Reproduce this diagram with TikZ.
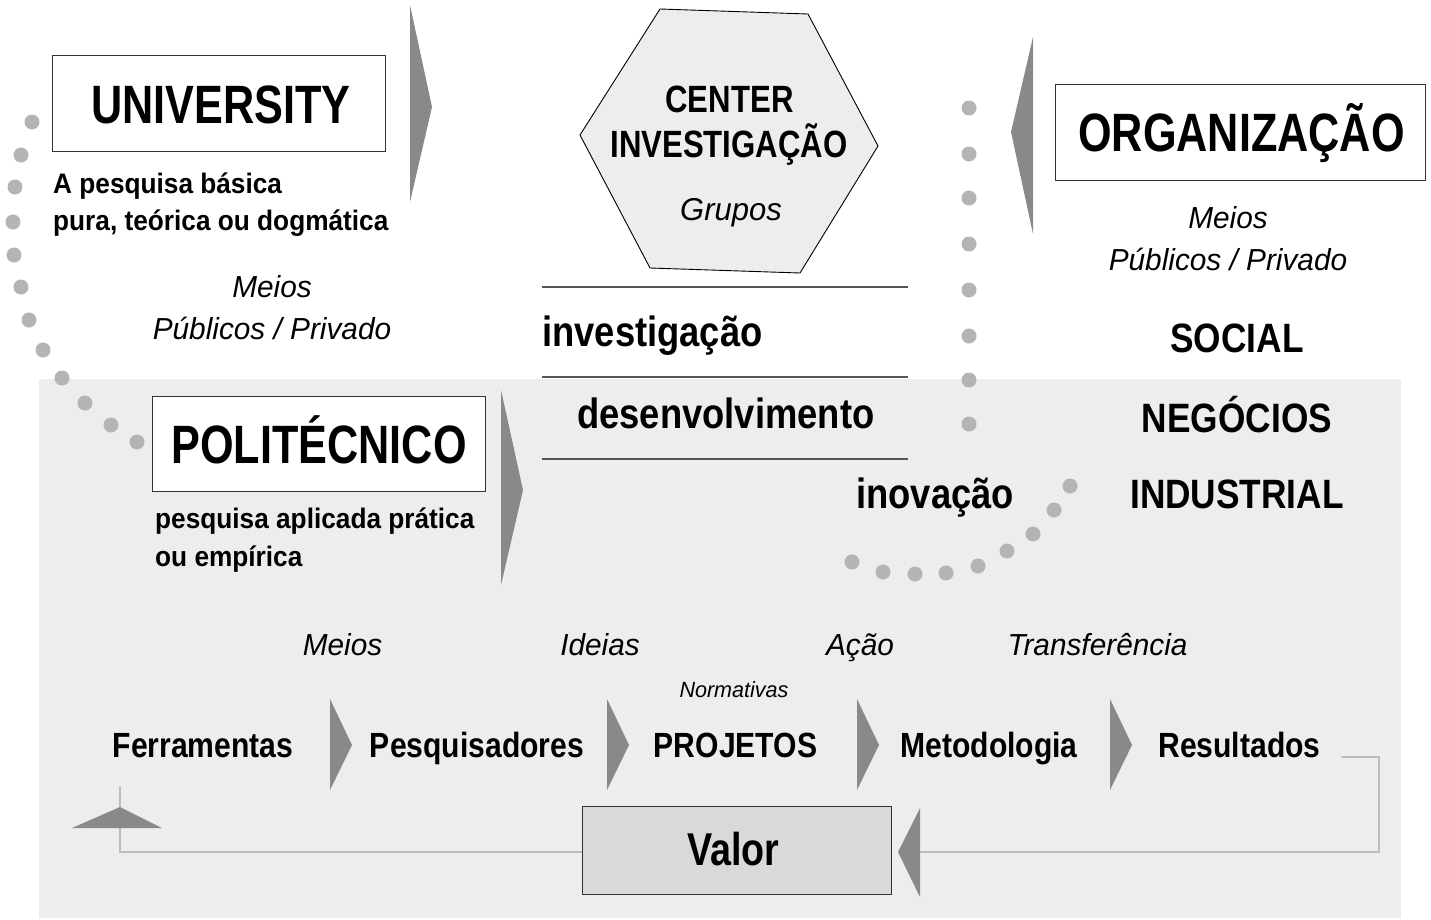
\documentclass[tikz,border=0pt]{standalone}
\usepackage{fontspec}
\setmainfont{Liberation Sans}
\newfontfamily\fhd[FakeStretch=0.80]{Liberation Sans}
\newfontfamily\fbd[FakeStretch=0.93]{Liberation Sans}
\newfontfamily\flb[FakeStretch=0.86]{Liberation Sans}
\newfontfamily\fce[FakeStretch=0.82]{Liberation Sans}
\newfontfamily\fit[FakeStretch=0.98]{Liberation Sans}
\definecolor{bggray}{HTML}{EDEDED}
\definecolor{dotgray}{HTML}{B4B4B4}
\definecolor{arrgray}{HTML}{898989}
\definecolor{linegray}{HTML}{BDBDBD}
\definecolor{valgray}{HTML}{D9D9D9}
\definecolor{boxline}{HTML}{333333}
\definecolor{midline}{HTML}{555555}
\tikzset{
  hd/.style={font={\fhd\bfseries\fontsize{54}{60}\selectfont}, inner sep=0, anchor=base},
  bd/.style={font={\fbd\bfseries\fontsize{28.2}{32}\selectfont}, inner sep=0, anchor=base west},
  lb/.style={font={\flb\bfseries\fontsize{35}{40}\selectfont}, inner sep=0, anchor=base},
  md/.style={font={\flb\bfseries\fontsize{42.3}{48}\selectfont}, inner sep=0, anchor=base west},
  sec/.style={font={\flb\bfseries\fontsize{41}{46}\selectfont}, inner sep=0, anchor=base},
  ce/.style={font={\fce\bfseries\fontsize{38}{42}\selectfont}, inner sep=0, anchor=base},
  it/.style={font={\fit\itshape\fontsize{30.4}{34}\selectfont}, inner sep=0, anchor=base},
  box/.style={draw=boxline, line width=1pt, fill=white, rectangle, inner sep=0},
  dot/.style={circle, fill=dotgray, inner sep=0, minimum size=15pt},
  chev/.style={fill=arrgray},
  fb/.style={draw=linegray, line width=2.5pt},
  sepline/.style={draw=midline, line width=1.2pt}
}
\begin{document}
\begin{tikzpicture}[x=1pt,y=-1pt]
\useasboundingbox (0,0) rectangle (1431,919);
\fill[white] (0,0) rectangle (1431,919);
\fill[bggray] (39,379) rectangle (1401,918);

% left dots
\foreach \p [count=\i] in {(32,122),(21,155),(15,187),(13,222),(14,255),(21,287),(29,320),(43,350),(62,378),(85,403),(111,425),(137,442)}
  \node[dot] (ld\i) at \p {};
% right dots
\foreach \yy [count=\i] in {108,154,198,244,290,336,380,424}
  \node[dot] (rd\i) at (969,\yy) {};
% arc dots
\foreach \p [count=\i] in {(852,562),(883,572),(915,574),(946,573),(978,566),(1007,551),(1033,534),(1054,510),(1070,486)}
  \node[dot] (ad\i) at \p {};

% big triangles
\fill[chev] (410,5) -- (432,107) -- (410,202) -- cycle;
\fill[chev] (1033,37) -- (1011,132) -- (1033,234) -- cycle;
\fill[chev] (501,390) -- (523,490) -- (501,585) -- cycle;

% UNIVERSITY
\node[box, minimum width=333pt, minimum height=96pt] (univ) at (218.5,103) {};
\node[hd] (univT) at (221,123) {UNIVERSITY};
\node[bd] (ub1) at (53,193) {A pesquisa básica};
\node[bd] (ub2) at (53,230) {pura, teórica ou dogmática};
\node[it] (um1) at (272,297) {Meios};
\node[it] (um2) at (272,339) {Públicos / Privado};

% ORGANIZACAO
\node[box, minimum width=370pt, minimum height=96pt] (org) at (1240,132) {};
\node[hd] (orgT) at (1241.5,151) {ORGANIZAÇÃO};
\node[it] (om1) at (1228,228) {Meios};
\node[it] (om2) at (1228,270) {Públicos / Privado};
\node[sec] (soc) at (1237,352) {SOCIAL};
\node[sec] (neg) at (1237,432) {NEGÓCIOS};
\node[sec] (ind) at (1237,508) {INDUSTRIAL};

% POLITECNICO
\node[box, minimum width=333pt, minimum height=95pt] (poli) at (318.5,443.5) {};
\node[hd] (poliT) at (319,463) {POLITÉCNICO};
\node[bd] (pb1) at (155,528) {pesquisa aplicada prática};
\node[bd] (pb2) at (155,566) {ou empírica};

% hexagon
\filldraw[fill=bggray, draw=black, line width=0.9pt] (660,9) -- (808,14) -- (878,146) -- (800,273) -- (650,268) -- (580,135) -- cycle;
\node[ce] (cen1) at (729.5,112) {CENTER};
\node[ce] (cen2) at (729,157) {INVESTIGAÇÃO};
\node[it, font={\fit\itshape\fontsize{31.6}{34}\selectfont}] (grp) at (731,220) {Grupos};

% separator lines and middle words
\coordinate (s1a) at (542,287); \coordinate (s1b) at (908,287);
\coordinate (s2a) at (542,377); \coordinate (s2b) at (908,377);
\coordinate (s3a) at (542,459); \coordinate (s3b) at (908,459);
\draw[sepline] (s1a) -- (s1b);
\draw[sepline] (s2a) -- (s2b);
\draw[sepline] (s3a) -- (s3b);
\node[md] (inv) at (542,346) {investigação};
\node[md] (des) at (577,428) {desenvolvimento};
\node[md] (ino) at (856,508) {inovação};

% bottom row
\node[it] (b1) at (342.5,655) {Meios};
\node[it] (b2) at (600,655) {Ideias};
\node[it] (b3) at (860,655) {Ação};
\node[it] (b4) at (1097.5,655) {Transferência};
\node[it, font={\fit\itshape\fontsize{22}{26}\selectfont}] (norm) at (734,697) {Normativas};
\node[lb] (fer) at (203,757) {Ferramentas};
\node[lb] (pes) at (477,757) {Pesquisadores};
\node[lb] (pro) at (735.5,757) {PROJETOS};
\node[lb] (met) at (989,757) {Metodologia};
\node[lb] (res) at (1239.5,757) {Resultados};
\foreach \L in {330,607,857,1110}
  \fill[chev] (\L,699) -- (\L+22,745) -- (\L,790) -- cycle;

% Valor and feedback loop
\node[box, fill=valgray, minimum width=309pt, minimum height=88pt] (val) at (736.5,850) {};
\node[lb, font={\fce\bfseries\fontsize{46}{50}\selectfont}] (valT) at (733.5,865) {Valor};
\coordinate (r1) at (1341,757);
\coordinate (r2) at (1379,852);
\coordinate (r3) at (920,852);
\coordinate (l1) at (120,852);
\coordinate (l2) at (120,786);
\draw[fb] (r1) -| (r2) -- (r3);
\draw[fb] (val.west |- l1) -- (l1) -- (l2);
\fill[chev] (920,808) -- (898,852) -- (920,897) -- cycle;
\fill[chev] (72,828) -- (120,807) -- (162,828) -- cycle;
\end{tikzpicture}
\end{document}
